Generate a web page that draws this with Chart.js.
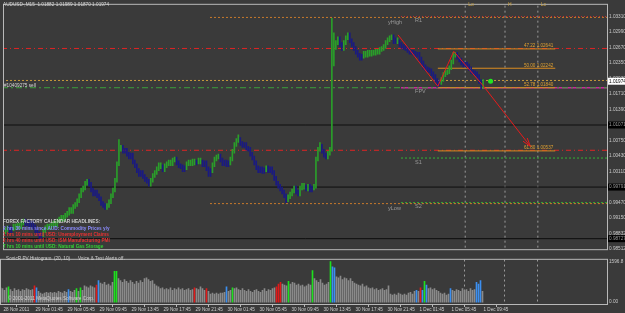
<!DOCTYPE html>
<html>
<head>
<meta charset="utf-8">
<script src="https://cdn.jsdelivr.net/npm/chart.js@4.4.1/dist/chart.umd.min.js"></script>
<style>
  html, body { margin: 0; padding: 0; background: #3a3a3a; }
  #wrap { position: relative; width: 625px; height: 313px; overflow: hidden; }
  #price { position: absolute; left: 0; top: 0; }
  #vol { position: absolute; left: 0; top: 254px; }
</style>
</head>
<body>
<div id="wrap">
  <canvas id="price" width="625" height="254"></canvas>
  <canvas id="vol" width="625" height="59"></canvas>
</div>
<script>
// AUDUSD M15, one entry per bar (bar 0 = 28 Nov 21:45)
const timeLabels = ['28 Nov 2011', '29 Nov 01:45', '29 Nov 05:45', '29 Nov 09:45', '29 Nov 13:45',
  '29 Nov 17:45', '29 Nov 21:45', '30 Nov 01:45', '30 Nov 05:45', '30 Nov 09:45', '30 Nov 13:45',
  '30 Nov 17:45', '30 Nov 21:45', '1 Dec 01:45', '1 Dec 05:45', '1 Dec 09:45'];
const tickBars = [0, 16, 32, 48, 64, 80, 96, 112, 128, 144, 160, 176, 192, 208, 224, 240];

const barHigh = [
  0.9893,
  0.9895, 0.9899, 0.9899, 0.9897, 0.9903, 0.9903, 0.9905, 0.9905, 0.9909, 0.9913,
  0.9913, 0.9911, 0.9911, 0.9909, 0.9909, 0.9901, 0.9893, 0.9887, 0.9885, 0.9893,
  0.9899, 0.9903, 0.9903, 0.9905, 0.9909, 0.9909, 0.9913, 0.9917, 0.9921, 0.9921,
  0.9925, 0.9929, 0.9937, 0.9937, 0.9943, 0.9947, 0.9955, 0.9965, 0.9977, 0.9981,
  0.9991, 0.9995, 0.9995, 0.9989, 0.9977, 0.9973, 0.9973, 0.9965, 0.9959, 0.9949,
  0.9945, 0.9945, 0.9953, 0.9965, 0.9977, 0.9997, 1.0031, 1.0077, 1.0065, 1.0065,
  1.0059, 1.0059, 1.0051, 1.0049, 1.0049, 1.0035, 1.0027, 1.0017, 1.0013, 1.0013,
  1.0005, 0.9999, 0.9995, 0.9997, 1.0007, 1.0013, 1.0021, 1.0029, 1.0029, 1.0025,
  1.0027, 1.0031, 1.0035, 1.0035, 1.0039, 1.0041, 1.0041, 1.0033, 1.0027, 1.0025,
  1.0023, 1.0031, 1.0035, 1.0035, 1.0037, 1.0037, 1.0035, 1.0039, 1.0039, 1.0035,
  1.0033, 1.0033, 1.0021, 1.0017, 1.0029, 1.0041, 1.0045, 1.0047, 1.0047, 1.0039,
  1.0035, 1.0035, 1.0033, 1.0041, 1.0057, 1.0071, 1.0079, 1.0087, 1.0081, 1.0073,
  1.0071, 1.0071, 1.0063, 1.0061, 1.0051, 1.0043, 1.0033, 1.0023, 1.0021, 1.0021,
  1.0019, 1.0023, 1.0023, 1.0021, 1.0021, 1.0013, 1.0001, 0.9991, 0.9985, 0.9979,
  0.9973, 0.9965, 0.9963, 0.9969, 0.9975, 0.9981, 0.9981, 0.9973, 0.9981, 0.9987,
  0.9987, 0.9983, 0.9985, 0.9985, 0.9981, 0.9985, 1.0041, 1.0061, 1.0071, 1.0067,
  1.0057, 1.0049, 1.0053, 1.0061, 1.0327, 1.0297, 1.0281, 1.0289, 1.0289, 1.0277,
  1.0281, 1.0291, 1.0297, 1.0297, 1.0285, 1.0277, 1.0269, 1.0261, 1.0255, 1.0253,
  1.0259, 1.0259, 1.0261, 1.0261, 1.0261, 1.0261, 1.0263, 1.0263, 1.0267, 1.0269,
  1.0273, 1.0281, 1.0287, 1.0291, 1.0293, 1.0293, 1.0287, 1.0287, 1.0283, 1.0277,
  1.0273, 1.0271, 1.0269, 1.0265, 1.0261, 1.0261, 1.0259, 1.0257, 1.0257, 1.0247,
  1.0239, 1.0231, 1.0227, 1.0225, 1.0223, 1.0217, 1.0211, 1.0203, 1.0199, 1.0205,
  1.0215, 1.0219, 1.0221, 1.0229, 1.0241, 1.0257, 1.0257, 1.0257, 1.0251, 1.0245,
  1.0239, 1.0237, 1.0237, 1.0233, 1.0227, 1.0221, 1.0219, 1.0217, 1.0211, 1.0201,
  1.0201
];
const barLow = [
  0.9883,
  0.9883, 0.9887, 0.9885, 0.9885, 0.9889, 0.9891, 0.9891, 0.9893, 0.9893, 0.9901,
  0.9899, 0.9899, 0.9897, 0.9897, 0.9893, 0.9885, 0.9879, 0.9873, 0.9873, 0.9877,
  0.9885, 0.9891, 0.9891, 0.9891, 0.9897, 0.9897, 0.9897, 0.9905, 0.9909, 0.9909,
  0.9909, 0.9917, 0.9921, 0.9925, 0.9925, 0.9935, 0.9939, 0.9947, 0.9957, 0.9969,
  0.9973, 0.9983, 0.9981, 0.9969, 0.9961, 0.9961, 0.9957, 0.9951, 0.9941, 0.9937,
  0.9933, 0.9933, 0.9937, 0.9945, 0.9957, 0.9969, 0.9989, 1.0023, 1.0053, 1.0049,
  1.0049, 1.0043, 1.0037, 1.0037, 1.0027, 1.0019, 1.0009, 1.0001, 1.0001, 0.9997,
  0.9991, 0.9987, 0.9981, 0.9981, 0.9989, 0.9999, 1.0005, 1.0013, 1.0017, 1.0011,
  1.0011, 1.0019, 1.0023, 1.0023, 1.0023, 1.0031, 1.0025, 1.0019, 1.0017, 1.0011,
  1.0011, 1.0015, 1.0023, 1.0023, 1.0023, 1.0025, 1.0025, 1.0027, 1.0027, 1.0021,
  1.0021, 1.0013, 1.0001, 1.0001, 1.0009, 1.0021, 1.0033, 1.0037, 1.0031, 1.0023,
  1.0023, 1.0021, 1.0021, 1.0025, 1.0033, 1.0049, 1.0063, 1.0071, 1.0065, 1.0061,
  1.0061, 1.0055, 1.0053, 1.0043, 1.0035, 1.0025, 1.0015, 1.0009, 1.0009, 1.0007,
  1.0007, 1.0011, 1.0009, 1.0009, 1.0005, 0.9993, 0.9983, 0.9977, 0.9971, 0.9965,
  0.9957, 0.9947, 0.9949, 0.9955, 0.9961, 0.9967, 0.9965, 0.9961, 0.9961, 0.9973,
  0.9975, 0.9971, 0.9971, 0.9969, 0.9969, 0.9973, 0.9977, 1.0033, 1.0053, 1.0049,
  1.0041, 1.0037, 1.0037, 1.0045, 1.0053, 1.0229, 1.0263, 1.0273, 1.0269, 1.0261,
  1.0261, 1.0273, 1.0283, 1.0277, 1.0269, 1.0261, 1.0253, 1.0247, 1.0241, 1.0241,
  1.0245, 1.0247, 1.0247, 1.0249, 1.0249, 1.0251, 1.0251, 1.0253, 1.0253, 1.0259,
  1.0261, 1.0265, 1.0273, 1.0279, 1.0283, 1.0275, 1.0275, 1.0275, 1.0269, 1.0265,
  1.0263, 1.0261, 1.0257, 1.0253, 1.0253, 1.0251, 1.0247, 1.0247, 1.0239, 1.0231,
  1.0223, 1.0219, 1.0217, 1.0215, 1.0209, 1.0203, 1.0195, 1.0185, 1.0187, 1.0191,
  1.0197, 1.0207, 1.0211, 1.0213, 1.0221, 1.0233, 1.0247, 1.0243, 1.0237, 1.0231,
  1.0227, 1.0227, 1.0225, 1.0219, 1.0213, 1.0211, 1.0209, 1.0203, 1.0193, 1.0181,
  1.0183
];
const volume = [
  568,
  533, 462, 568, 604, 497, 426, 533, 462, 497, 426,
  497, 462, 533, 497, 462, 497, 639, 568, 426, 355,
  320, 355, 391, 355, 391, 355, 391, 355, 426, 391,
  355, 426, 391, 497, 426, 391, 462, 533, 426, 568,
  462, 639, 604, 568, 639, 604, 568, 675, 852, 746,
  710, 781, 675, 710, 639, 781, 1207, 1207, 923, 852,
  781, 888, 817, 746, 852, 781, 710, 817, 746, 852,
  781, 923, 959, 888, 817, 852, 710, 639, 604, 533,
  568, 497, 533, 497, 568, 462, 533, 497, 568, 497,
  533, 462, 497, 533, 462, 497, 568, 533, 497, 604,
  533, 462, 533, 426, 320, 355, 320, 355, 320, 355,
  355, 391, 604, 426, 462, 568, 533, 568, 497, 462,
  533, 462, 426, 497, 426, 391, 462, 497, 426, 391,
  462, 533, 426, 497, 462, 533, 568, 604, 710, 781,
  710, 675, 639, 817, 710, 781, 746, 675, 710, 639,
  675, 604, 639, 710, 675, 1243, 923, 852, 781, 888,
  746, 675, 710, 781, 1596, 1385, 1349, 994, 959, 1030,
  888, 959, 923, 852, 923, 817, 746, 710, 675, 639,
  710, 604, 639, 568, 533, 568, 497, 533, 462, 497,
  533, 462, 497, 639, 320, 284, 320, 284, 355, 320,
  284, 320, 284, 355, 391, 320, 426, 462, 426, 568,
  462, 817, 675, 533, 568, 497, 533, 462, 426, 355,
  320, 355, 284, 320, 533, 462, 426, 497, 462, 426,
  533, 462, 497, 426, 533, 462, 497, 781, 710, 852,
  426
];
// bars flagged by the SonicR PV histogram
const redVolBars = [17, 48, 97, 103, 138, 139, 140, 210];
const greenVolBars = [4, 38, 40, 57, 58, 116, 144, 156, 165, 212];
const blueVolBars = [18, 34, 49, 113, 166, 167, 208, 211, 213, 225, 238, 239, 240];

const priceTicks = [1.03310, 1.02990, 1.02670, 1.02350, 1.02030, 1.01710, 1.01390, 1.01070,
  1.00750, 1.00430, 1.00110, 0.99790, 0.99470, 0.99150, 0.98832, 0.98512];
const volTicks = [0, 1596.8];

const titleText = 'AUDUSD-,M15  1.01882 1.01989 1.01870 1.01974';
const bidPrice = 1.01974;
const sellPrice = 1.0199;
const sellLabel = '#10409275 sell';
const blackLevels = [1.01071, 0.99791, 0.98727];
const redLevels = [1.0265, 1.0055];
const greenLevel = 1.0184;

const dayNames = ['yHigh', 'yLow'];
const dayPrices = [1.0329, 0.9945];
const dayStart = 103.75;
const pivotNames = ['R1', 'FPV', 'S1', 'S2'];
const pivotPrices = [1.0331, 1.0184, 1.0039, 0.9947];
const pivotStart = 199.75;

const fibLabels = ['47.22', '50.00', '52.78', '61.80'];
const fibPrices = [1.02641, 1.02242, 1.01840, 1.00537];
const fibFrom = 218.25, fibTo = 277.25;

const zigzagBars = [198.25, 218.25, 226.25, 241.25, 264.75];
const zigzagPrices = [1.0293, 1.0187, 1.0259, 1.0187, 1.0063];
const dotBar = 244.75;

const sessionNames = ['Lo', 'H', 'Lc'];
const sessionBars = [232, 252, 268.5];

const headlines = [
  'FOREX FACTORY CALENDAR HEADLINES:',
  '2 hrs 30 mins since AUD: Commodity Prices y/y',
  '1 hrs 10 mins until USD: Unemployment Claims',
  '2 hrs 40 mins until USD: ISM Manufacturing PMI',
  '7 hrs 10 mins until USD: Natural Gas Storage'
];
const headlineColors = ['#cfcfcf', '#8c8cff', '#e83232', '#e83232', '#32d032'];

// ---------------------------------------------------------------
const X_MIN = 0.25, X_MAX = 303.25;
const P_MIN = 0.9851, P_MAX = 1.0355;
const V_MIN = -71, V_MAX = 1703;
const FONT = '"Liberation Sans", Arial, sans-serif';
const UP = '#2a9e2a', DOWN = '#1a1a82';

const barColors = barHigh.map((h, i) => {
  if (i === 0) return DOWN;
  const mid = (h + barLow[i]) / 2;
  const prev = (barHigh[i - 1] + barLow[i - 1]) / 2;
  return mid >= prev ? UP : DOWN;
});
const volColors = volume.map((v, i) => {
  if (redVolBars.includes(i)) return '#e01a1a';
  if (greenVolBars.includes(i)) return '#1ee01e';
  if (blueVolBars.includes(i)) return '#3c8ff0';
  return '#8a8a8a';
});

function hline(price, from, color, dash, width) {
  return {
    type: 'line', data: [{x: from, y: price}, {x: X_MAX + 1, y: price}],
    borderColor: color, borderDash: dash || [], borderWidth: width || 1,
    pointRadius: 0, fill: false, order: 3
  };
}
function vline(bar, lo, hi) {
  return {
    type: 'line', data: [{x: bar, y: lo}, {x: bar, y: hi}],
    borderColor: '#9a9a9a', borderDash: [2, 3], borderWidth: 1,
    pointRadius: 0, fill: false, order: 3
  };
}
function txt(ctx, s, x, y, color, size, bold, align) {
  ctx.font = (bold ? 'bold ' : '') + size + 'px ' + FONT;
  ctx.fillStyle = color;
  ctx.textAlign = align || 'left';
  ctx.textBaseline = 'middle';
  ctx.fillText(s, x, y);
}

const priceSets = [
  {
    type: 'bar', label: 'AUDUSD',
    data: barHigh.map((h, i) => ({x: i, y: [barLow[i], h]})),
    backgroundColor: barColors, barThickness: 1, borderWidth: 0, order: 1
  },
  {
    type: 'line', data: zigzagBars.map((b, i) => ({x: b, y: zigzagPrices[i]})),
    borderColor: '#e81c1c', borderWidth: 1, pointRadius: 0, fill: false, tension: 0, order: 0
  },
  {
    type: 'line', data: [{x: dotBar, y: bidPrice}], showLine: false,
    pointRadius: 2.5, pointBackgroundColor: '#22e622', pointBorderWidth: 0, order: 0
  }
];
blackLevels.forEach(p => priceSets.push(hline(p, X_MIN - 1, '#0e0e0e')));
redLevels.forEach(p => priceSets.push(hline(p, X_MIN - 1, '#e02424', [5, 3, 1, 3])));
priceSets.push(hline(sellPrice, X_MIN - 1, '#c89a3a', [2, 2]));
priceSets.push(hline(greenLevel, X_MIN - 1, '#3ca03c', [6, 3, 2, 3]));
priceSets.push(hline(pivotPrices[1], pivotStart, '#c8289a', [], 1.5));
dayPrices.forEach(p => priceSets.push(hline(p, dayStart, '#c87a2c', [2, 2])));
priceSets.push(hline(pivotPrices[0], pivotStart, '#c83030', [1, 2]));
[pivotPrices[2], pivotPrices[3]].forEach(p => priceSets.push(hline(p, pivotStart, '#34b434', [2, 2])));
fibPrices.forEach(p => priceSets.push({
  type: 'line', data: [{x: fibFrom, y: p}, {x: fibTo, y: p}],
  borderColor: '#dc8c20', borderWidth: 1, pointRadius: 0, fill: false, order: 2
}));
sessionBars.forEach(b => priceSets.push(vline(b, P_MIN - 0.01, P_MAX + 0.01)));

const priceOverlay = {
  id: 'priceOverlay',
  afterDraw(chart) {
    const {ctx, chartArea: ca, scales: {x, y}} = chart;
    ctx.save();
    ctx.strokeStyle = '#b8b8b8';
    ctx.lineWidth = 1;
    ctx.strokeRect(ca.left - 0.5, ca.top - 0.5, ca.right - ca.left + 1, ca.bottom - ca.top + 1);

    // arrow head at end of zigzag
    const n = zigzagBars.length;
    const ax = x.getPixelForValue(zigzagBars[n - 1]), ay = y.getPixelForValue(zigzagPrices[n - 1]);
    const bx = x.getPixelForValue(zigzagBars[n - 2]), by = y.getPixelForValue(zigzagPrices[n - 2]);
    const ang = Math.atan2(ay - by, ax - bx);
    ctx.strokeStyle = '#e81c1c';
    ctx.beginPath();
    ctx.moveTo(ax - 9 * Math.cos(ang - 0.3), ay - 9 * Math.sin(ang - 0.3));
    ctx.lineTo(ax, ay);
    ctx.lineTo(ax - 9 * Math.cos(ang + 0.3), ay - 9 * Math.sin(ang + 0.3));
    ctx.stroke();

    txt(ctx, titleText, 3, 5, '#d6d6d6', 4.7);
    txt(ctx, sellLabel, 4, y.getPixelForValue(sellPrice) + 5, '#d6d6d6', 4.7);

    const px = x.getPixelForValue(pivotStart);
    dayNames.forEach((s, i) => txt(ctx, s, px - 13, y.getPixelForValue(dayPrices[i]) + 5, '#9a9a9a', 5.5));
    pivotNames.forEach((s, i) => txt(ctx, s, px + 14, y.getPixelForValue(pivotPrices[i]) + 4, '#9a9a9a', 5.5));

    fibLabels.forEach((s, i) => txt(ctx, s + ' ' + fibPrices[i].toFixed(5),
      x.getPixelForValue(fibTo) - 2, y.getPixelForValue(fibPrices[i]) - 3, '#e0a030', 4.6, false, 'right'));

    sessionNames.forEach((s, i) => txt(ctx, s, x.getPixelForValue(sessionBars[i]) + 3, 5, '#c8a040', 5));

    headlines.forEach((s, i) => txt(ctx, s, 3, 222 + i * 6.3, headlineColors[i], 4.7, true));

    // price boxes on the right axis
    const bxL = ca.right + 1;
    blackLevels.forEach(p => {
      const py = y.getPixelForValue(p);
      ctx.fillStyle = '#000';
      ctx.fillRect(bxL, py - 3.5, 625 - bxL, 7);
      txt(ctx, p.toFixed(5), bxL + 1, py, '#9a9a9a', 4.7);
    });
    const yb = y.getPixelForValue(bidPrice);
    ctx.fillStyle = '#ffffff';
    ctx.fillRect(bxL, yb - 3.5, 625 - bxL, 7);
    txt(ctx, bidPrice.toFixed(5), bxL + 1, yb, '#000', 4.7);
    ctx.restore();
  }
};

new Chart(document.getElementById('price'), {
  type: 'bar',
  data: {datasets: priceSets},
  options: {
    responsive: false, animation: false, events: [],
    layout: {padding: {left: 1, top: 1, right: 0, bottom: 1}},
    plugins: {legend: {display: false}, tooltip: {enabled: false}},
    scales: {
      x: {type: 'linear', min: X_MIN, max: X_MAX, offset: false, display: false},
      y: {
        type: 'linear', position: 'right', min: P_MIN, max: P_MAX,
        afterBuildTicks: s => { s.ticks = priceTicks.map(v => ({value: v})); },
        afterFit: s => { s.width = 18; },
        grid: {display: false, drawTicks: false}, border: {display: false},
        ticks: {color: '#c8c8c8', padding: 2, font: {size: 4.7, family: FONT}, callback: v => v.toFixed(5)}
      }
    }
  },
  plugins: [priceOverlay]
});

const volSets = [{
  type: 'bar', label: 'Volume',
  data: volume.map((v, i) => ({x: i, y: v})),
  backgroundColor: volColors, barThickness: 1, borderWidth: 0, order: 1
}];
sessionBars.forEach(b => volSets.push(vline(b, V_MIN - 100, V_MAX + 100)));

const volOverlay = {
  id: 'volOverlay',
  afterDraw(chart) {
    const {ctx, chartArea: ca} = chart;
    ctx.save();
    ctx.strokeStyle = '#b8b8b8';
    ctx.lineWidth = 1;
    ctx.strokeRect(ca.left - 0.5, ca.top + 0.5, ca.right - ca.left + 1, ca.bottom - ca.top);
    txt(ctx, 'SonicR PV Histogram  (20, 10)      Voice & Text Alerts off.', 6, 4.5, '#cfcfcf', 4.7);
    txt(ctx, '\u00a9 2001-2011 MetaQuotes Software Corp.', 8, 45, '#cfcfcf', 4.7);
    ctx.restore();
  }
};

new Chart(document.getElementById('vol'), {
  type: 'bar',
  data: {datasets: volSets},
  options: {
    responsive: false, animation: false, events: [],
    layout: {padding: {left: 1, top: 0, right: 0, bottom: 0}},
    plugins: {legend: {display: false}, tooltip: {enabled: false}},
    scales: {
      x: {
        type: 'linear', min: X_MIN, max: X_MAX, offset: false, position: 'bottom',
        afterBuildTicks: s => { s.ticks = tickBars.map(v => ({value: v})); },
        afterFit: s => { s.height = 9; },
        grid: {drawOnChartArea: false, drawTicks: true, tickLength: 3, color: '#b8b8b8'},
        border: {display: false},
        ticks: {
          color: '#cfcfcf', padding: 0, labelOffset: 3, align: 'start', autoSkip: false,
          maxRotation: 0, minRotation: 0, font: {size: 4.6, family: FONT},
          callback: v => timeLabels[Math.round(v / 16)]
        }
      },
      y: {
        type: 'linear', position: 'right', min: V_MIN, max: V_MAX,
        afterBuildTicks: s => { s.ticks = volTicks.map(v => ({value: v})); },
        afterFit: s => { s.width = 18; },
        grid: {display: false, drawTicks: false}, border: {display: false},
        ticks: {color: '#c8c8c8', padding: 2, font: {size: 4.7, family: FONT},
          callback: v => (v === 0 ? '0.00' : v.toFixed(1))}
      }
    }
  },
  plugins: [volOverlay]
});
</script>
</body>
</html>
